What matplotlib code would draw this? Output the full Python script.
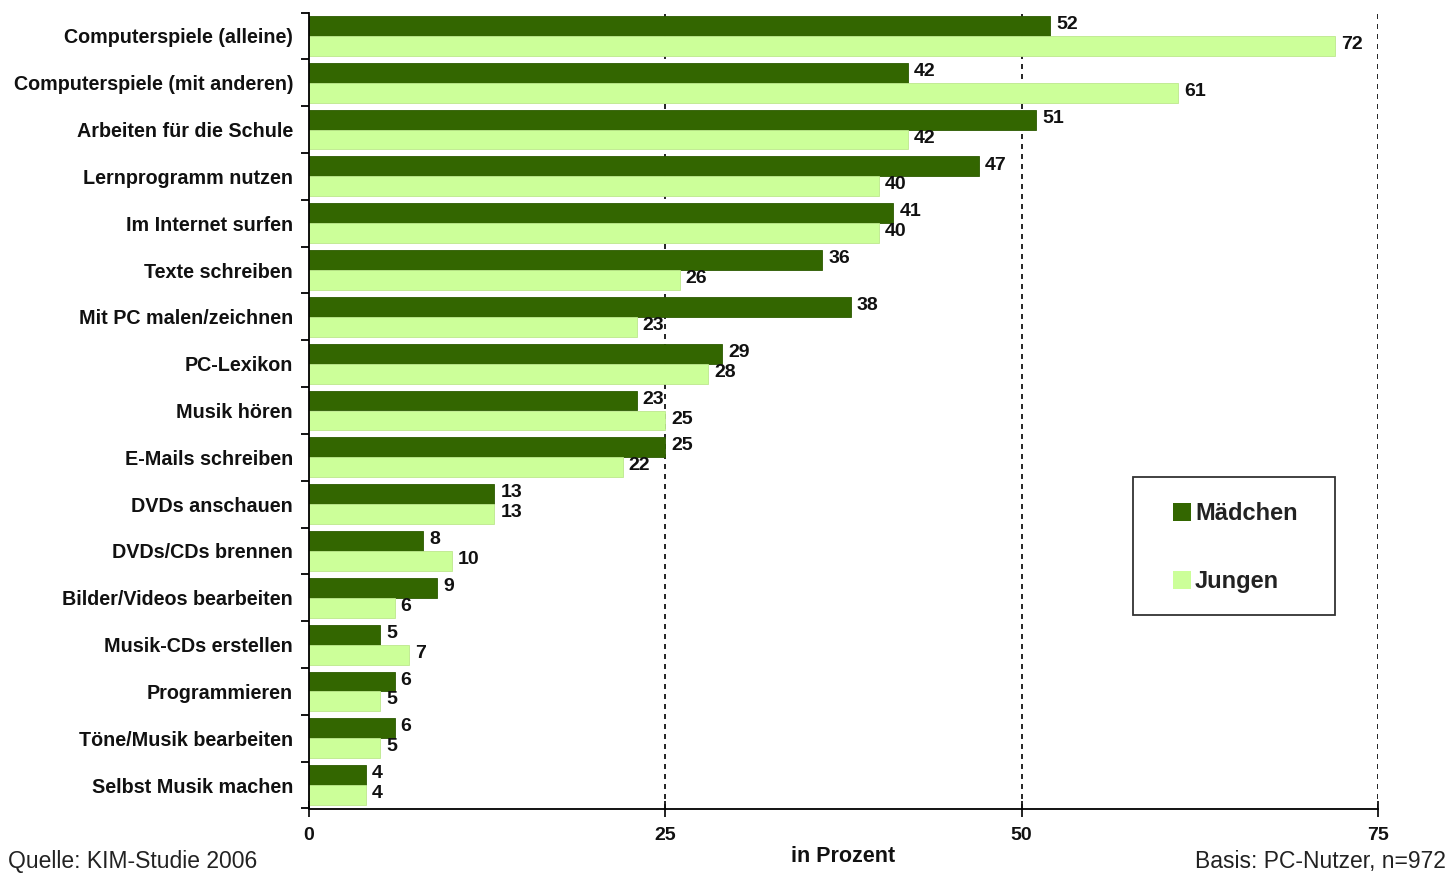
import matplotlib
matplotlib.use("Agg")
import matplotlib.pyplot as plt
from matplotlib.patches import Rectangle

categories = [
    "Computerspiele (alleine)",
    "Computerspiele (mit anderen)",
    "Arbeiten für die Schule",
    "Lernprogramm nutzen",
    "Im Internet surfen",
    "Texte schreiben",
    "Mit PC malen/zeichnen",
    "PC-Lexikon",
    "Musik hören",
    "E-Mails schreiben",
    "DVDs anschauen",
    "DVDs/CDs brennen",
    "Bilder/Videos bearbeiten",
    "Musik-CDs erstellen",
    "Programmieren",
    "Töne/Musik bearbeiten",
    "Selbst Musik machen",
]
maedchen = [52, 42, 51, 47, 41, 36, 38, 29, 23, 25, 13, 8, 9, 5, 6, 6, 4]
jungen = [72, 61, 42, 40, 40, 26, 23, 28, 25, 22, 13, 10, 6, 7, 5, 5, 4]
x_ticks = [0, 25, 50, 75]
series_names = ["Mädchen", "Jungen"]

dark = "#336600"
light = "#CCFF99"
font = "Liberation Sans"
W, H = 1454, 874

fig = plt.figure(figsize=(W / 100, H / 100), dpi=100)
ax = fig.add_axes([309 / W, 1 - 808.5 / H, (1378 - 309) / W, (808.5 - 12.5) / H])

n = len(categories)
pos = list(range(n))
h = 0.425
ax.barh([p - h / 2 for p in pos], maedchen, height=h, color=dark,
        edgecolor="#2c5a00", linewidth=0.6, zorder=2)
ax.barh([p + h / 2 for p in pos], jungen, height=h, color=light,
        edgecolor="#bde88c", linewidth=0.6, zorder=2)

for p, m, j in zip(pos, maedchen, jungen):
    ax.text(m + 0.42, p - h / 2 - 0.03, str(m), va="center", ha="left",
            fontsize=14, fontweight="bold", family=font, color="#111111", zorder=3)
    ax.text(j + 0.42, p + h / 2 - 0.03, str(j), va="center", ha="left",
            fontsize=14, fontweight="bold", family=font, color="#111111", zorder=3)

ax.set_xlim(0, 75)
ax.set_ylim(n - 0.5, -0.5)

for xv in x_ticks[1:]:
    ax.axvline(xv, color="black", linewidth=1.2, linestyle=(0, (3, 3)), zorder=1)

ax.set_xticks(x_ticks)
ax.set_xticklabels([str(v) for v in x_ticks], fontsize=14, fontweight="bold", family=font)
ax.tick_params(axis="x", direction="inout", length=12, width=1.3, pad=7, colors="#111111")

ax.set_yticks(pos)
ax.set_yticklabels(categories, fontsize=14.2, fontweight="bold", family=font, color="#111111")
ax.tick_params(axis="y", which="major", length=0, pad=11.5)
ax.set_yticks([k - 0.5 for k in range(n + 1)], minor=True)
ax.tick_params(axis="y", which="minor", direction="out", length=6, width=1.3)

for side in ("top", "right"):
    ax.spines[side].set_visible(False)
ax.spines["left"].set_linewidth(1.3)
ax.spines["bottom"].set_linewidth(1.3)

# legend box with two entries
fig.patches.append(Rectangle((1133 / W, 1 - 615 / H), 202 / W, 138 / H,
                             transform=fig.transFigure, facecolor="white",
                             edgecolor="#333333", linewidth=1.3, zorder=5))
for name, col, yc in zip(series_names, [dark, light], [512, 580]):
    fig.patches.append(Rectangle((1173 / W, 1 - (yc + 9) / H), 18 / W, 18 / H,
                                 transform=fig.transFigure, facecolor=col,
                                 edgecolor="none", zorder=6))
    fig.text(1195 / W, 1 - (yc + 1.5) / H, name, ha="left", va="center", fontsize=17,
             fontweight="bold", family=font, color="#222222", zorder=7)

fig.text(843 / W, 1 - 857 / H, "in Prozent", ha="center", va="center",
         fontsize=15.5, fontweight="bold", family=font, color="#111111")
fig.text(8 / W, 1 - 868 / H, "Quelle: KIM-Studie 2006", ha="left", va="baseline",
         fontsize=16.5, family=font, color="#222222")
fig.text(1446 / W, 1 - 868 / H, "Basis: PC-Nutzer, n=972", ha="right", va="baseline",
         fontsize=16.5, family=font, color="#222222")

fig.savefig("out.png", dpi=100)
